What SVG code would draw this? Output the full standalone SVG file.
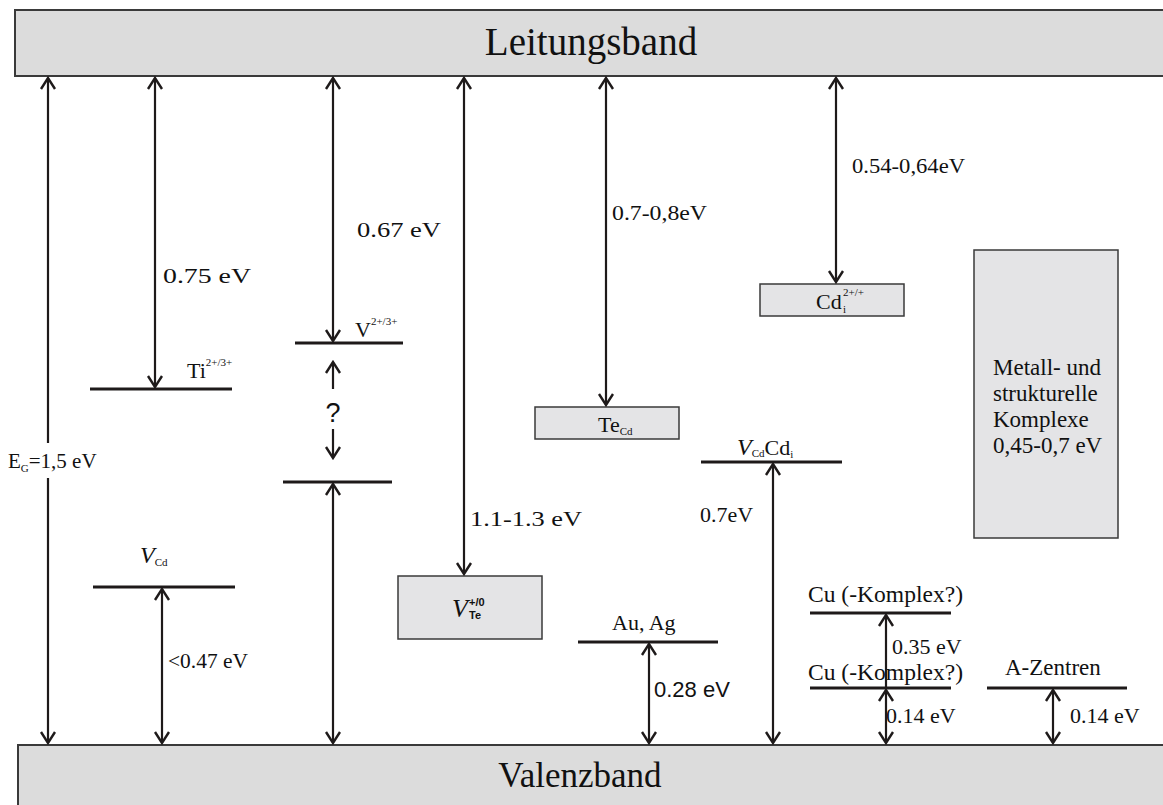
<svg xmlns="http://www.w3.org/2000/svg" width="1163" height="805" viewBox="0 0 1163 805">
<style>
.band{fill:#dcdcdc;stroke:#3a3a3a;stroke-width:2}
.box{fill:#e4e4e6;stroke:#3a3a3a;stroke-width:1.5}
.lvl{stroke:#1e1a1a;stroke-width:3}
.ar{stroke:#1e1a1a;stroke-width:2.2;fill:none}
text{font-family:"Liberation Serif","Times New Roman",serif;fill:#111;font-size:22px}
.sans{font-family:"Liberation Sans",Arial,sans-serif}
.big{font-size:39px}
.l23{font-size:23px}
.sup{font-size:11px}
.sub{font-size:11px}
</style>
<defs>
<marker id="ah" markerUnits="userSpaceOnUse" viewBox="-13 -9 15 18" refX="0" refY="0" markerWidth="15" markerHeight="18" orient="auto-start-reverse">
<path d="M-11,-7 L0,0 L-11,7" fill="none" stroke="#1e1a1a" stroke-width="2.4"/>
</marker>
</defs>

<g id="leitungsband">
<rect class="band" x="15" y="10" width="1160" height="66"/>
<text class="big" x="591" y="55" text-anchor="middle">Leitungsband</text>
</g>
<g id="valenzband">
<rect class="band" x="18" y="745" width="1160" height="70"/>
<text class="big" x="580" y="787" text-anchor="middle" style="font-size:35px">Valenzband</text>
</g>

<g id="eg">
<text x="8" y="468" style="font-size:21px">E<tspan class="sub" dy="4">G</tspan><tspan dy="-4">=1,5 eV</tspan></text>
</g>

<g id="ti">
<line class="lvl" x1="90" y1="389" x2="232" y2="389"/>
<text x="187" y="378">Ti<tspan class="sup" dy="-12">2+/3+</tspan></text>
<text x="163" y="283" textLength="88" lengthAdjust="spacingAndGlyphs">0.75 eV</text>
</g>

<g id="v">
<line class="lvl" x1="295" y1="343" x2="403" y2="343"/>
<text x="355" y="337">V<tspan class="sup" dy="-12">2+/3+</tspan></text>
<text x="357" y="237" textLength="84" lengthAdjust="spacingAndGlyphs">0.67 eV</text>
<text class="sans" x="333" y="422" text-anchor="middle" style="font-size:27px">?</text>
<line class="lvl" x1="283" y1="482" x2="392" y2="482"/>
</g>

<g id="vte">
<rect class="box" x="398" y="576" width="144" height="63"/>
<text x="452" y="617" style="font-style:italic;font-size:26px">V</text>
<text class="sans" x="469" y="606" style="font-size:11px;font-weight:bold">+/0</text>
<text class="sans" x="469" y="619" style="font-size:11px;font-weight:bold">Te</text>
<text x="470" y="526" textLength="112" lengthAdjust="spacingAndGlyphs">1.1-1.3 eV</text>
</g>

<g id="tecd">
<rect class="box" x="535" y="407" width="144" height="32"/>
<text x="598" y="432">Te<tspan class="sub" dy="3">Cd</tspan></text>
<text x="612" y="220" textLength="95" lengthAdjust="spacingAndGlyphs">0.7-0,8eV</text>
</g>

<g id="cdi">
<rect class="box" x="760" y="284" width="144" height="32"/>
<text x="816" y="309">Cd</text>
<text class="sup" x="843" y="296">2+/+</text>
<text class="sub" x="843" y="313">i</text>
<text x="852" y="173" textLength="113" lengthAdjust="spacingAndGlyphs">0.54-0,64eV</text>
</g>

<g id="vcdcdi">
<line class="lvl" x1="701" y1="462" x2="842" y2="462"/>
<text x="737" y="455"><tspan style="font-style:italic;font-size:24px">V</tspan><tspan class="sub" dy="2">Cd</tspan><tspan dy="-2">Cd</tspan><tspan class="sub" dy="3">i</tspan></text>
<text x="700" y="522">0.7eV</text>
</g>

<g id="metall">
<rect class="box" x="974" y="250" width="144" height="288"/>
<text class="l23" x="993" y="375">Metall- und</text>
<text class="l23" x="993" y="401">strukturelle</text>
<text class="l23" x="993" y="427">Komplexe</text>
<text class="l23" x="993" y="453">0,45-0,7 eV</text>
</g>

<g id="vcd">
<line class="lvl" x1="93" y1="587" x2="235" y2="587"/>
<text x="140" y="563"><tspan style="font-style:italic;font-size:24px">V</tspan><tspan class="sub" dy="3">Cd</tspan></text>
<text x="168" y="668" textLength="80" lengthAdjust="spacingAndGlyphs">&lt;0.47 eV</text>
</g>

<g id="auag">
<line class="lvl" x1="578" y1="642" x2="718" y2="642"/>
<text x="612" y="630">Au, Ag</text>
<text class="sans" x="654" y="697">0.28 eV</text>
</g>

<g id="cu1">
<line class="lvl" x1="810" y1="613" x2="951" y2="613"/>
<text class="l23" x="808" y="602" textLength="155" lengthAdjust="spacingAndGlyphs">Cu (-Komplex?)</text>
<text x="892" y="654">0.35 eV</text>
</g>
<g id="cu2">
<line class="lvl" x1="810" y1="688" x2="951" y2="688"/>
<text class="l23" x="808" y="680" textLength="155" lengthAdjust="spacingAndGlyphs">Cu (-Komplex?)</text>
<text x="886" y="723">0.14 eV</text>
</g>

<g id="azentren">
<line class="lvl" x1="987" y1="688" x2="1127" y2="688"/>
<text class="l23" x="1005" y="675">A-Zentren</text>
<text x="1070" y="723">0.14 eV</text>
</g>

<g id="connectors">
<line class="ar" x1="48" y1="78" x2="48" y2="443" marker-start="url(#ah)"/>
<line class="ar" x1="48" y1="478" x2="48" y2="743" marker-end="url(#ah)"/>
<line class="ar" x1="155" y1="78" x2="155" y2="387" marker-start="url(#ah)" marker-end="url(#ah)"/>
<line class="ar" x1="333" y1="78" x2="333" y2="341" marker-start="url(#ah)" marker-end="url(#ah)"/>
<line class="ar" x1="333" y1="389" x2="333" y2="362" marker-end="url(#ah)"/>
<line class="ar" x1="333" y1="429" x2="333" y2="458" marker-end="url(#ah)"/>
<line class="ar" x1="333" y1="484" x2="333" y2="743" marker-start="url(#ah)" marker-end="url(#ah)"/>
<line class="ar" x1="464" y1="78" x2="464" y2="574" marker-start="url(#ah)" marker-end="url(#ah)"/>
<line class="ar" x1="606" y1="78" x2="606" y2="405" marker-start="url(#ah)" marker-end="url(#ah)"/>
<line class="ar" x1="836" y1="78" x2="836" y2="282" marker-start="url(#ah)" marker-end="url(#ah)"/>
<line class="ar" x1="773" y1="464" x2="773" y2="743" marker-start="url(#ah)" marker-end="url(#ah)"/>
<line class="ar" x1="162" y1="589" x2="162" y2="743" marker-start="url(#ah)" marker-end="url(#ah)"/>
<line class="ar" x1="649" y1="644" x2="649" y2="743" marker-start="url(#ah)" marker-end="url(#ah)"/>
<line class="ar" x1="886" y1="615" x2="886" y2="688" marker-start="url(#ah)"/>
<line class="ar" x1="886" y1="690" x2="886" y2="743" marker-start="url(#ah)" marker-end="url(#ah)"/>
<line class="ar" x1="1053" y1="690" x2="1053" y2="743" marker-start="url(#ah)" marker-end="url(#ah)"/>
</g>
</svg>
